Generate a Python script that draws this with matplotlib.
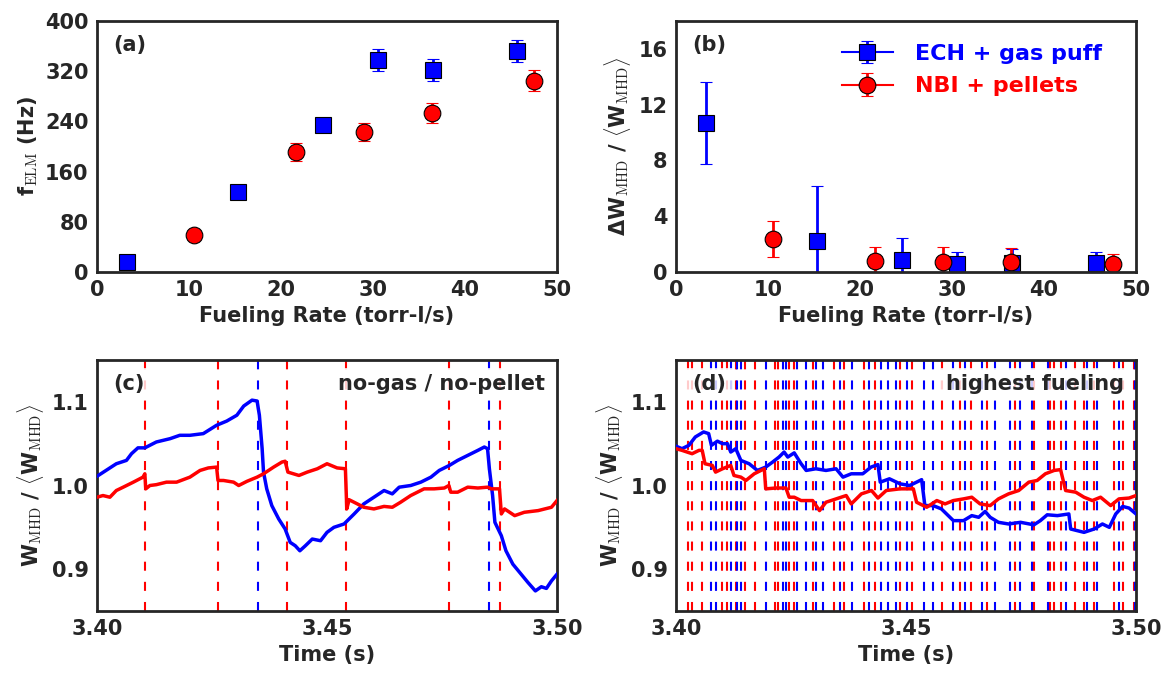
import numpy as np
import matplotlib
matplotlib.use("Agg")
import matplotlib.pyplot as plt

plt.rcParams['font.family'] = ['DejaVu Sans']
plt.rcParams['font.weight'] = 'bold'
plt.rcParams['mathtext.fontset'] = 'cm'
plt.rcParams['lines.scale_dashes'] = False

DARK = '#262626'
BLUE = '#0000ff'
RED = '#ff0000'
FS = 15

# --- ELM frequency / drop vs fueling rate ---
ech_rate = [3.3, 15.3, 24.6, 30.5, 36.5, 45.6]
ech_felm = [16, 128, 234, 338, 322, 352]
ech_felm_err = [4, 4, 8, 17, 17, 18]
ech_dw = [10.7, 2.2, 0.83, 0.6, 0.64, 0.64]
ech_dw_err = [2.95, 4.0, 1.6, 0.87, 1.0, 0.83]

nbi_rate = [10.5, 21.6, 29.0, 36.4, 47.5]
nbi_felm = [59, 191, 223, 254, 305]
nbi_felm_err = [4, 14, 15, 16, 17]
nbi_dw = [2.34, 0.76, 0.71, 0.69, 0.57]
nbi_dw_err = [1.3, 1.0, 1.1, 1.0, 0.7]

# --- stored energy traces, no-gas / no-pellet case ---
c_ech_t = [3.4000, 3.4042, 3.4064, 3.4075, 3.4089, 3.4104, 3.4129, 3.4159, 3.4180, 3.4202,
           3.4231, 3.4260, 3.4282, 3.4304, 3.4319, 3.4337, 3.4348, 3.4353, 3.4359, 3.4362,
           3.4369, 3.4380, 3.4395, 3.4409, 3.4420, 3.4431, 3.4441, 3.4453, 3.4468, 3.4486,
           3.4500, 3.4515, 3.4537, 3.4559, 3.4580, 3.4602, 3.4624, 3.4642, 3.4657, 3.4682,
           3.4704, 3.4726, 3.4744, 3.4766, 3.4784, 3.4806, 3.4828, 3.4842, 3.4849, 3.4853,
           3.4860, 3.4865, 3.4879, 3.4889, 3.4904, 3.4922, 3.4937, 3.4953, 3.4966, 3.4977,
           3.4988, 3.5000]
c_ech_w = [1.011, 1.026, 1.030, 1.038, 1.045, 1.045, 1.052, 1.056, 1.060, 1.060,
           1.062, 1.072, 1.077, 1.084, 1.095, 1.102, 1.101, 1.084, 1.044, 1.016,
           0.996, 0.976, 0.960, 0.948, 0.932, 0.928, 0.922, 0.928, 0.936, 0.934,
           0.944, 0.950, 0.954, 0.966, 0.978, 0.986, 0.994, 0.990, 0.998, 1.000,
           1.004, 1.010, 1.018, 1.024, 1.030, 1.036, 1.042, 1.046, 1.044, 1.020,
           0.988, 0.956, 0.940, 0.922, 0.906, 0.894, 0.884, 0.874, 0.879, 0.877,
           0.886, 0.894]
c_nbi_t = [3.4000, 3.4013, 3.4028, 3.4042, 3.4057, 3.4079, 3.4100, 3.4104, 3.4106, 3.4115,
           3.4129, 3.4151, 3.4173, 3.4202, 3.4224, 3.4242, 3.4260, 3.4263, 3.4275, 3.4297,
           3.4308, 3.4326, 3.4348, 3.4362, 3.4384, 3.4402, 3.4409, 3.4415, 3.4439, 3.4457,
           3.4479, 3.4500, 3.4522, 3.4540, 3.4543, 3.4548, 3.4566, 3.4580, 3.4602, 3.4624,
           3.4642, 3.4660, 3.4682, 3.4711, 3.4733, 3.4755, 3.4765, 3.4769, 3.4784, 3.4806,
           3.4828, 3.4849, 3.4857, 3.4875, 3.4879, 3.4886, 3.4908, 3.4929, 3.4959, 3.4988,
           3.5000]
c_nbi_w = [0.986, 0.988, 0.986, 0.994, 0.998, 1.004, 1.010, 1.014, 0.996, 1.000,
           1.001, 1.004, 1.004, 1.010, 1.018, 1.021, 1.022, 1.006, 1.006, 1.004,
           1.000, 1.005, 1.010, 1.014, 1.022, 1.028, 1.029, 1.016, 1.012, 1.016,
           1.020, 1.026, 1.021, 1.020, 0.972, 0.983, 0.978, 0.974, 0.972, 0.975,
           0.974, 0.980, 0.988, 0.996, 0.996, 0.997, 1.000, 0.992, 0.992, 0.998,
           0.997, 0.998, 0.996, 0.996, 0.966, 0.972, 0.964, 0.968, 0.970, 0.974,
           0.982]
c_ech_elms = [3.4350, 3.4852]
c_nbi_elms = [3.4105, 3.4263, 3.4413, 3.4542, 3.4765, 3.4876]

# --- stored energy traces, highest fueling case ---
d_ech_t = [3.4000, 3.4013, 3.4028, 3.4042, 3.4060, 3.4071, 3.4077, 3.4090, 3.4101, 3.4112,
           3.4119, 3.4130, 3.4141, 3.4159, 3.4177, 3.4195, 3.4210, 3.4224, 3.4235, 3.4243,
           3.4257, 3.4272, 3.4283, 3.4304, 3.4326, 3.4348, 3.4363, 3.4381, 3.4406, 3.4424,
           3.4439, 3.4444, 3.4464, 3.4487, 3.4508, 3.4523, 3.4534, 3.4541, 3.4559, 3.4577,
           3.4603, 3.4625, 3.4643, 3.4658, 3.4672, 3.4683, 3.4701, 3.4723, 3.4749, 3.4778,
           3.4792, 3.4807, 3.4829, 3.4854, 3.4858, 3.4887, 3.4909, 3.4927, 3.4942, 3.4956,
           3.4971, 3.4985, 3.5000]
d_ech_w = [1.047, 1.044, 1.048, 1.058, 1.064, 1.062, 1.048, 1.053, 1.050, 1.050,
           1.040, 1.044, 1.030, 1.026, 1.018, 1.022, 1.028, 1.034, 1.040, 1.034,
           1.039, 1.026, 1.018, 1.020, 1.018, 1.020, 1.010, 1.014, 1.014, 1.022,
           1.025, 1.004, 1.008, 1.002, 1.000, 1.004, 1.007, 0.976, 0.976, 0.972,
           0.958, 0.958, 0.964, 0.962, 0.969, 0.962, 0.956, 0.954, 0.956, 0.953,
           0.958, 0.965, 0.964, 0.966, 0.948, 0.944, 0.948, 0.954, 0.950, 0.966,
           0.975, 0.973, 0.966]
d_nbi_t = [3.4000, 3.4013, 3.4035, 3.4050, 3.4057, 3.4063, 3.4079, 3.4086, 3.4101, 3.4119,
           3.4126, 3.4141, 3.4152, 3.4170, 3.4192, 3.4195, 3.4217, 3.4239, 3.4246, 3.4257,
           3.4272, 3.4297, 3.4312, 3.4326, 3.4348, 3.4370, 3.4381, 3.4403, 3.4425, 3.4439,
           3.4457, 3.4487, 3.4516, 3.4523, 3.4545, 3.4567, 3.4585, 3.4603, 3.4625, 3.4643,
           3.4661, 3.4683, 3.4701, 3.4723, 3.4745, 3.4767, 3.4785, 3.4803, 3.4822, 3.4836,
           3.4847, 3.4869, 3.4887, 3.4905, 3.4923, 3.4945, 3.4963, 3.4985, 3.5000]
d_nbi_w = [1.044, 1.042, 1.038, 1.042, 1.042, 1.026, 1.024, 1.016, 1.020, 1.024,
           1.012, 1.010, 1.006, 1.014, 1.020, 0.996, 0.997, 0.997, 0.986, 0.986,
           0.982, 0.982, 0.970, 0.980, 0.984, 0.988, 0.978, 0.990, 0.994, 0.985,
           0.994, 0.996, 0.996, 0.980, 0.974, 0.982, 0.978, 0.982, 0.984, 0.986,
           0.978, 0.976, 0.984, 0.990, 0.994, 1.004, 1.006, 1.014, 1.018, 1.019,
           0.994, 0.992, 0.986, 0.982, 0.986, 0.976, 0.984, 0.985, 0.988]
d_ech_elms = [3.4076, 3.4086, 3.4119, 3.4133, 3.4141, 3.4195, 3.4232, 3.4239, 3.4263, 3.4283,
              3.4304, 3.4320, 3.4357, 3.4383, 3.4420, 3.4445, 3.4461, 3.4479, 3.4503, 3.4540,
              3.4559, 3.4603, 3.4629, 3.4665, 3.4694, 3.4727, 3.4747, 3.4774, 3.4809, 3.4847,
              3.4894, 3.4915, 3.4964, 3.4998]
d_nbi_elms = [3.4025, 3.4034, 3.4057, 3.4101, 3.4111, 3.4130, 3.4150, 3.4172, 3.4216, 3.4222,
              3.4245, 3.4256, 3.4297, 3.4343, 3.4366, 3.4409, 3.4432, 3.4487, 3.4514, 3.4578,
              3.4618, 3.4642, 3.4676, 3.4738, 3.4778, 3.4814, 3.4822, 3.4836, 3.4867, 3.4887,
              3.4909, 3.4953, 3.4971, 3.4996]


def style_axes(ax):
    for sp in ax.spines.values():
        sp.set_color(DARK)
        sp.set_linewidth(2.0)
    ax.tick_params(length=0, labelsize=FS, labelcolor=DARK, pad=6)
    for lab in ax.get_xticklabels() + ax.get_yticklabels():
        lab.set_fontweight('bold')


def panel_tag(ax, s, x=0.035, ha='left'):
    ax.text(x, 0.905, s, transform=ax.transAxes, fontsize=FS, fontweight='bold',
            color=DARK, ha=ha, va='center', zorder=5,
            bbox=dict(facecolor='white', edgecolor='none', alpha=0.8, pad=4))


fig = plt.figure(figsize=(11.72, 6.75), dpi=100)
w, h = 460 / 1172, 251 / 675
ax_a = fig.add_axes([97 / 1172, 1 - 272 / 675, w, h])
ax_b = fig.add_axes([676 / 1172, 1 - 272 / 675, w, h])
ax_c = fig.add_axes([97 / 1172, 1 - 611 / 675, w, h])
ax_d = fig.add_axes([676 / 1172, 1 - 611 / 675, w, h])

mk = dict(markersize=12, markeredgecolor='black', markeredgewidth=0.8,
          elinewidth=2, capsize=4, capthick=1.5, linestyle='none')

# (a)
ax_a.errorbar(ech_rate, ech_felm, yerr=ech_felm_err, fmt='s', color=BLUE, ecolor=BLUE, **mk)
ax_a.errorbar(nbi_rate, nbi_felm, yerr=nbi_felm_err, fmt='o', color=RED, ecolor=RED, **mk)
ax_a.set_xlim(0, 50)
ax_a.set_ylim(0, 400)
ax_a.set_yticks(np.arange(0, 401, 80))
ax_a.set_xticks(np.arange(0, 51, 10))
ax_a.set_xlabel('Fueling Rate (torr-l/s)', fontsize=FS, fontweight='bold', color=DARK)
ax_a.set_ylabel(r'f$_{\rm ELM}$ (Hz)', fontsize=FS, fontweight='bold', color=DARK)
panel_tag(ax_a, '(a)')
style_axes(ax_a)

# (b)
ax_b.errorbar(ech_rate, ech_dw, yerr=ech_dw_err, fmt='s', color=BLUE, ecolor=BLUE, **mk)
ax_b.errorbar(nbi_rate, nbi_dw, yerr=nbi_dw_err, fmt='o', color=RED, ecolor=RED, **mk)
# legend entries drawn with a line through the marker
leg_kw = dict(mk, linestyle='-', linewidth=1.5)
h1 = ax_b.errorbar([np.nan], [np.nan], yerr=[1], fmt='s', color=BLUE, ecolor=BLUE,
                   label='ECH + gas puff', **leg_kw)
h2 = ax_b.errorbar([np.nan], [np.nan], yerr=[1], fmt='o', color=RED, ecolor=RED,
                   label='NBI + pellets', **leg_kw)
leg = ax_b.legend(handles=[h1, h2], loc='upper right', frameon=False,
                  bbox_to_anchor=(0.96, 0.97),
                  prop=dict(size=16, weight='bold'), handlelength=2.3,
                  handletextpad=1.0, borderaxespad=0.3, labelspacing=0.55)
for txt, col in zip(leg.get_texts(), [BLUE, RED]):
    txt.set_color(col)
ax_b.set_xlim(0, 50)
ax_b.set_ylim(0, 18)
ax_b.set_yticks([0, 4, 8, 12, 16])
ax_b.set_xticks(np.arange(0, 51, 10))
ax_b.set_xlabel('Fueling Rate (torr-l/s)', fontsize=FS, fontweight='bold', color=DARK)
ax_b.set_ylabel(r'ΔW$_{\rm MHD}$ / $\langle$W$_{\rm MHD}\rangle$', fontsize=FS,
                fontweight='bold', color=DARK)
panel_tag(ax_b, '(b)')
style_axes(ax_b)

# (c) and (d): stored energy with ELM times
dash = (0, (6.5, 8))
for ax, ech_t, ech_w, nbi_t, nbi_w, ech_elms, nbi_elms, tag, note in [
        (ax_c, c_ech_t, c_ech_w, c_nbi_t, c_nbi_w, c_ech_elms, c_nbi_elms, '(c)', 'no-gas / no-pellet'),
        (ax_d, d_ech_t, d_ech_w, d_nbi_t, d_nbi_w, d_ech_elms, d_nbi_elms, '(d)', 'highest fueling')]:
    for t in nbi_elms:
        ax.axvline(t, color=RED, lw=1.5, linestyle=dash, zorder=1)
    for t in ech_elms:
        ax.axvline(t, color=BLUE, lw=1.5, linestyle=dash, zorder=1)
    ax.plot(ech_t, ech_w, color=BLUE, lw=2.5, zorder=3)
    ax.plot(nbi_t, nbi_w, color=RED, lw=2.5, zorder=3)
    ax.set_xlim(3.40, 3.50)
    ax.set_ylim(0.85, 1.15)
    ax.set_xticks([3.40, 3.45, 3.50])
    ax.set_xticklabels(['3.40', '3.45', '3.50'])
    ax.set_yticks([0.9, 1.0, 1.1])
    ax.set_xlabel('Time (s)', fontsize=FS, fontweight='bold', color=DARK)
    ax.set_ylabel(r'W$_{\rm MHD}$ / $\langle$W$_{\rm MHD}\rangle$', fontsize=FS,
                  fontweight='bold', color=DARK)
    panel_tag(ax, tag)
    panel_tag(ax, note, x=0.975, ha='right')
    style_axes(ax)

fig.savefig('out.png', dpi=100)
